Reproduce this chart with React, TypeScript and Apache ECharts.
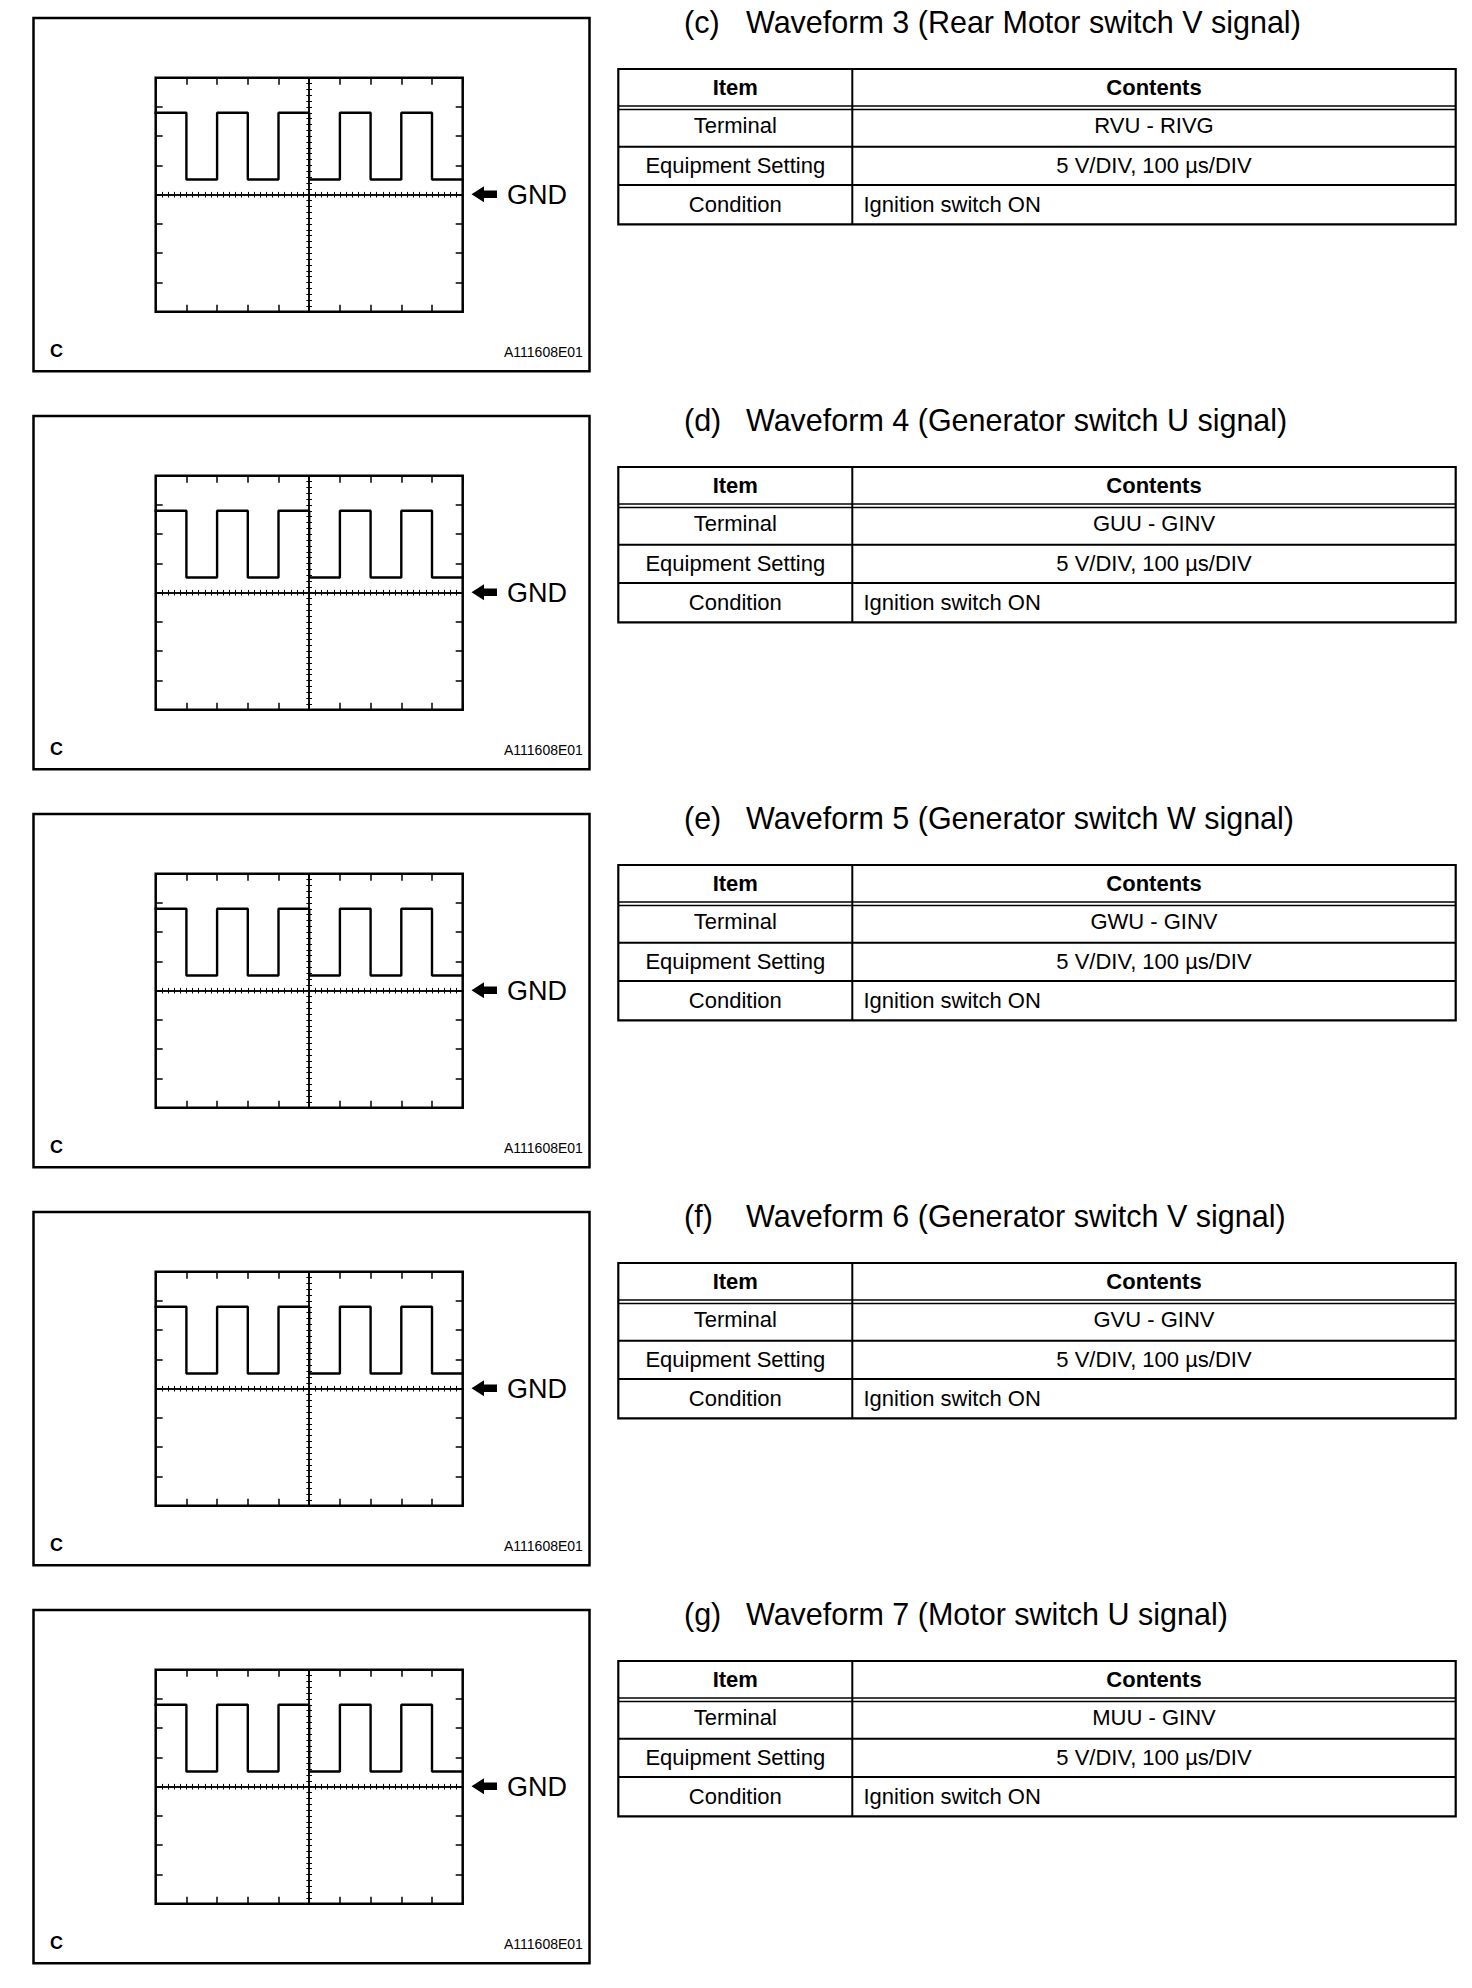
import React, { useEffect, useRef } from "react";
import * as echarts from "echarts";

// ---------- data ----------
const sectionLetters = ["(c)", "(d)", "(e)", "(f)", "(g)"];
const sectionTitles = [
  "Waveform 3 (Rear Motor switch V signal)",
  "Waveform 4 (Generator switch U signal)",
  "Waveform 5 (Generator switch W signal)",
  "Waveform 6 (Generator switch V signal)",
  "Waveform 7 (Motor switch U signal)",
];
const terminals = ["RVU - RIVG", "GUU - GINV", "GWU - GINV", "GVU - GINV", "MUU - GINV"];
const tableHeader = ["Item", "Contents"];
const tableItems = ["Terminal", "Equipment Setting", "Condition"];
const equipmentSetting = "5 V/DIV, 100 \u00b5s/DIV";
const conditionText = "Ignition switch ON";
const gndLabel = "GND";
const panelLetter = "C";
const figureId = "A111608E01";

// waveform (time in µs, level in V); 100 µs/DIV, 5 V/DIV
const timeUs = [-500, -400, -300, -200, -100, 0, 100, 200, 300, 400, 500];
const levelV = [14, 2.6, 14, 2.6, 14, 2.6, 14, 2.6, 14, 2.6, 2.6];
const xMin = -500;
const xMax = 500;
const xDiv = 100;
const yMin = -20;
const yMax = 20;
const yDiv = 5;

// ---------- layout ----------
const PAGE_W = 1472;
const PAGE_H = 1988;
const STEP = 398;
const FONT = '"Liberation Sans", Arial, Helvetica, sans-serif';
const G_LEFT = 155.7;
const G_TOP = 77.7;
const G_W = 307;
const G_H = 234;

export default function App() {
  const ref = useRef<HTMLDivElement>(null);

  useEffect(() => {
    if (!ref.current) return;
    const chart = echarts.init(ref.current, null, { renderer: "svg", width: PAGE_W, height: PAGE_H });

    const grids: any[] = [];
    const xAxes: any[] = [];
    const yAxes: any[] = [];
    const series: any[] = [];
    const graphics: any[] = [];

    const black = "#000";
    const borderTick = { show: true, inside: true, length: 7, lineStyle: { color: black, width: 1.5 } };
    const crossLine = { show: true, onZero: true, lineStyle: { color: black, width: 1.5 } };
    const crossTick = { show: true, inside: false, length: 2.8, lineStyle: { color: black, width: 1 } };
    const crossMinor = { show: true, splitNumber: 5, length: 2.8, lineStyle: { color: black, width: 1 } };
    const noBorderLine = { show: false, onZero: false };

    const baseX = {
      type: "value",
      min: xMin,
      max: xMax,
      interval: xDiv,
      axisLabel: { show: false },
      splitLine: { show: false },
    };
    const baseY = {
      type: "value",
      min: yMin,
      max: yMax,
      interval: yDiv,
      axisLabel: { show: false },
      splitLine: { show: false },
    };

    sectionTitles.forEach((title, i) => {
      const dy = i * STEP;
      const gTop = G_TOP + dy;
      const gp = 2 * i;
      const gq = 2 * i + 1;

      grids.push({ left: G_LEFT, top: gTop, width: G_W, height: G_H, show: true, borderColor: black, borderWidth: 2.5, backgroundColor: "transparent" });
      grids.push({ left: G_LEFT, top: gTop, width: G_W, height: G_H, show: false });

      xAxes.push({ ...baseX, gridIndex: gp, position: "bottom", axisLine: noBorderLine, axisTick: borderTick });
      xAxes.push({ ...baseX, gridIndex: gp, position: "top", axisLine: noBorderLine, axisTick: borderTick });
      xAxes.push({ ...baseX, gridIndex: gq, position: "bottom", axisLine: crossLine, axisTick: crossTick, minorTick: crossMinor });
      xAxes.push({ ...baseX, gridIndex: gq, position: "top", axisLine: crossLine, axisTick: crossTick, minorTick: crossMinor });

      yAxes.push({ ...baseY, gridIndex: gp, position: "left", axisLine: noBorderLine, axisTick: borderTick });
      yAxes.push({ ...baseY, gridIndex: gp, position: "right", axisLine: noBorderLine, axisTick: borderTick });
      yAxes.push({ ...baseY, gridIndex: gq, position: "left", axisLine: crossLine, axisTick: crossTick, minorTick: crossMinor });
      yAxes.push({ ...baseY, gridIndex: gq, position: "right", axisLine: crossLine, axisTick: crossTick, minorTick: crossMinor });

      series.push({
        type: "line",
        xAxisIndex: 4 * i,
        yAxisIndex: 4 * i,
        step: "end",
        data: timeUs.map((t, k) => [t, levelV[k]]),
        symbol: "none",
        clip: false,
        silent: true,
        z: 5,
        lineStyle: { color: black, width: 2.4, cap: "square" },
      });

      // ---- scope frame ----
      graphics.push({
        type: "rect",
        shape: { x: 33.5, y: 18 + dy, width: 556, height: 353.3 },
        style: { fill: "none", stroke: black, lineWidth: 2.5 },
      });
      const cy = gTop + G_H / 2 - 0.5;
      graphics.push({
        type: "polygon",
        shape: {
          points: [
            [471.5, cy],
            [484, cy - 8],
            [484, cy - 3.8],
            [497, cy - 3.8],
            [497, cy + 3.8],
            [484, cy + 3.8],
            [484, cy + 8],
          ],
        },
        style: { fill: black },
      });
      graphics.push({
        type: "text",
        style: { text: gndLabel, x: 507, y: cy + 1.2, font: `27px ${FONT}`, fill: black, textAlign: "left", textVerticalAlign: "middle" },
      });
      graphics.push({
        type: "text",
        style: { text: panelLetter, x: 50, y: 351 + dy, font: `bold 18px ${FONT}`, fill: black, textAlign: "left", textVerticalAlign: "middle" },
      });
      graphics.push({
        type: "text",
        style: { text: figureId, x: 504, y: 351.5 + dy, font: `14px ${FONT}`, fill: black, textAlign: "left", textVerticalAlign: "middle" },
      });

      // ---- title ----
      graphics.push({
        type: "text",
        style: { text: sectionLetters[i], x: 684, y: 21.5 + dy, font: `30.5px ${FONT}`, fill: black, textAlign: "left", textVerticalAlign: "middle" },
      });
      graphics.push({
        type: "text",
        style: { text: title, x: 746, y: 21.5 + dy, font: `30.5px ${FONT}`, fill: black, textAlign: "left", textVerticalAlign: "middle" },
      });

      // ---- table ----
      const tL = 618.3;
      const tR = 1455.7;
      const tC = 852.3;
      const tT = 69 + dy;
      const tB = 224.3 + dy;
      graphics.push({
        type: "rect",
        shape: { x: tL, y: tT, width: tR - tL, height: tB - tT },
        style: { fill: "none", stroke: black, lineWidth: 2.2 },
      });
      graphics.push({ type: "line", shape: { x1: tC, y1: tT, x2: tC, y2: tB }, style: { stroke: black, lineWidth: 2 } });
      [106 + dy, 109.6 + dy].forEach((yy) =>
        graphics.push({ type: "line", shape: { x1: tL, y1: yy, x2: tR, y2: yy }, style: { stroke: black, lineWidth: 1.5 } })
      );
      [146.7 + dy, 185 + dy].forEach((yy) =>
        graphics.push({ type: "line", shape: { x1: tL, y1: yy, x2: tR, y2: yy }, style: { stroke: black, lineWidth: 2 } })
      );
      const leftCx = (tL + tC) / 2;
      const rightCx = (tC + tR) / 2;
      const rowY = [87.5 + dy, 125.7 + dy, 165 + dy, 204.3 + dy];
      graphics.push({
        type: "text",
        style: { text: tableHeader[0], x: leftCx, y: rowY[0], font: `bold 22px ${FONT}`, fill: black, textAlign: "center", textVerticalAlign: "middle" },
      });
      graphics.push({
        type: "text",
        style: { text: tableHeader[1], x: rightCx, y: rowY[0], font: `bold 22px ${FONT}`, fill: black, textAlign: "center", textVerticalAlign: "middle" },
      });
      tableItems.forEach((item, r) =>
        graphics.push({
          type: "text",
          style: { text: item, x: leftCx, y: rowY[r + 1], font: `22px ${FONT}`, fill: black, textAlign: "center", textVerticalAlign: "middle" },
        })
      );
      graphics.push({
        type: "text",
        style: { text: terminals[i], x: rightCx, y: rowY[1], font: `22px ${FONT}`, fill: black, textAlign: "center", textVerticalAlign: "middle" },
      });
      graphics.push({
        type: "text",
        style: { text: equipmentSetting, x: rightCx, y: rowY[2], font: `22px ${FONT}`, fill: black, textAlign: "center", textVerticalAlign: "middle" },
      });
      graphics.push({
        type: "text",
        style: { text: conditionText, x: 863.5, y: rowY[3], font: `22px ${FONT}`, fill: black, textAlign: "left", textVerticalAlign: "middle" },
      });
    });

    chart.setOption({
      animation: false,
      backgroundColor: "#fff",
      grid: grids,
      xAxis: xAxes,
      yAxis: yAxes,
      series,
      graphic: { elements: graphics },
    });

    return () => chart.dispose();
  }, []);

  return (
    <div
      ref={ref}
      style={{ position: "absolute", left: 0, top: 0, width: PAGE_W, height: PAGE_H, background: "#fff" }}
    />
  );
}
